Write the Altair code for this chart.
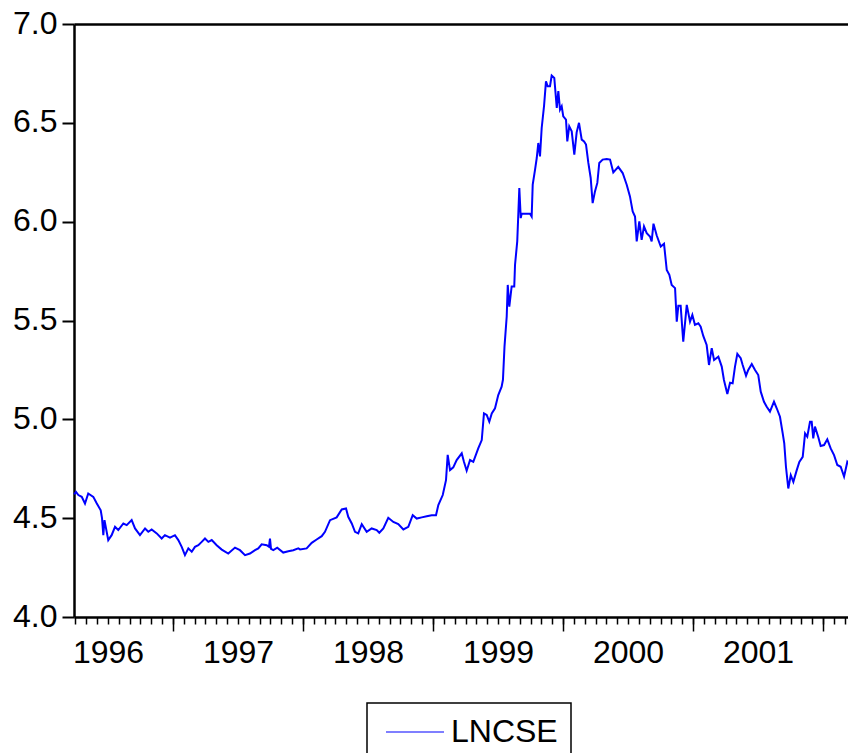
import altair as alt
import pandas as pd

# decimal-year dates and LNCSE values
t = [
    1996.240, 1996.254, 1996.272, 1996.298, 1996.323, 1996.348, 1996.387, 1996.413, 1996.444, 1996.454,
    1996.464, 1996.473, 1996.502, 1996.528, 1996.554, 1996.579, 1996.618, 1996.644, 1996.682, 1996.708,
    1996.746, 1996.785, 1996.810, 1996.836, 1996.875, 1996.913, 1996.938, 1996.977,
    1997.015, 1997.041, 1997.067, 1997.092, 1997.118, 1997.144, 1997.169, 1997.195, 1997.221, 1997.246,
    1997.272, 1997.298, 1997.336, 1997.375, 1997.425, 1997.477, 1997.515, 1997.554, 1997.592, 1997.631,
    1997.656, 1997.682, 1997.721, 1997.738, 1997.746, 1997.754, 1997.772, 1997.802, 1997.848, 1997.887,
    1997.925, 1997.964, 1997.977,
    1998.028, 1998.067, 1998.105, 1998.144, 1998.169, 1998.208, 1998.259, 1998.298, 1998.331, 1998.348,
    1998.375, 1998.400, 1998.425, 1998.452, 1998.490, 1998.528, 1998.567, 1998.587, 1998.618, 1998.656,
    1998.695, 1998.733, 1998.772, 1998.810, 1998.844, 1998.875, 1998.913, 1998.952, 1998.990,
    1999.023, 1999.041, 1999.075, 1999.100, 1999.113, 1999.131, 1999.156, 1999.182, 1999.221, 1999.238,
    1999.259, 1999.285, 1999.310, 1999.348, 1999.375, 1999.392, 1999.413, 1999.433, 1999.452, 1999.477,
    1999.502, 1999.528, 1999.538, 1999.550, 1999.567, 1999.575, 1999.587, 1999.605, 1999.625, 1999.631,
    1999.648, 1999.664, 1999.675, 1999.682, 1999.746, 1999.759, 1999.767, 1999.785, 1999.798, 1999.810,
    1999.823, 1999.836, 1999.854, 1999.869, 1999.882, 1999.900, 1999.913, 1999.933, 1999.952, 1999.964,
    1999.977, 1999.990,
    2000.002, 2000.023, 2000.033, 2000.048, 2000.067, 2000.087, 2000.105, 2000.123, 2000.144, 2000.162,
    2000.177, 2000.195, 2000.213, 2000.228, 2000.246, 2000.264, 2000.279, 2000.305, 2000.336, 2000.362,
    2000.387, 2000.425, 2000.459, 2000.490, 2000.515, 2000.536, 2000.554, 2000.567, 2000.587, 2000.605,
    2000.623, 2000.644, 2000.669, 2000.682, 2000.696, 2000.721, 2000.752, 2000.777, 2000.798, 2000.818,
    2000.836, 2000.862, 2000.875, 2000.887, 2000.905, 2000.925, 2000.952, 2000.977, 2000.995,
    2001.015, 2001.041, 2001.059, 2001.079, 2001.105, 2001.123, 2001.144, 2001.162, 2001.195, 2001.221,
    2001.238, 2001.264, 2001.285, 2001.305, 2001.323, 2001.341, 2001.367, 2001.382, 2001.408, 2001.425,
    2001.452, 2001.477, 2001.502, 2001.521, 2001.546, 2001.567, 2001.592, 2001.623, 2001.644, 2001.669,
    2001.690, 2001.702, 2001.715, 2001.733, 2001.752, 2001.772, 2001.798, 2001.818, 2001.844, 2001.862,
    2001.879, 2001.900, 2001.913, 2001.925, 2001.938, 2001.964, 2001.982,
    2002.008, 2002.033, 2002.059, 2002.085, 2002.110, 2002.136, 2002.162, 2002.187, 2002.213, 2002.246,
]
v = [
    4.620, 4.633, 4.617, 4.608, 4.574, 4.625, 4.608, 4.576, 4.540, 4.500,
    4.414, 4.490, 4.389, 4.414, 4.456, 4.440, 4.473, 4.465, 4.490, 4.448,
    4.414, 4.448, 4.431, 4.443, 4.423, 4.397, 4.414, 4.402,
    4.414, 4.389, 4.355, 4.313, 4.347, 4.330, 4.355, 4.363, 4.380, 4.397,
    4.380, 4.389, 4.363, 4.341, 4.321, 4.351, 4.338, 4.313, 4.321, 4.338,
    4.347, 4.368, 4.363, 4.355, 4.397, 4.345, 4.338, 4.351, 4.326, 4.333,
    4.338, 4.347, 4.342,
    4.347, 4.375, 4.392, 4.409, 4.431, 4.490, 4.504, 4.544, 4.549, 4.507,
    4.473, 4.431, 4.423, 4.470, 4.431, 4.448, 4.440, 4.426, 4.448, 4.502,
    4.481, 4.470, 4.443, 4.456, 4.515, 4.498, 4.504, 4.510, 4.515,
    4.515, 4.566, 4.617, 4.692, 4.820, 4.743, 4.757, 4.794, 4.828, 4.785,
    4.740, 4.794, 4.785, 4.853, 4.895, 5.030, 5.022, 4.988, 5.030, 5.056,
    5.123, 5.165, 5.200, 5.368, 5.520, 5.680, 5.570, 5.672, 5.672, 5.782,
    5.900, 6.170, 6.018, 6.040, 6.040, 6.026, 6.187, 6.263, 6.322, 6.398,
    6.330, 6.474, 6.584, 6.710, 6.685, 6.685, 6.739, 6.727, 6.576, 6.660,
    6.567, 6.584,
    6.533, 6.516, 6.406, 6.482, 6.457, 6.339, 6.452, 6.500, 6.415, 6.406,
    6.390, 6.297, 6.221, 6.094, 6.153, 6.196, 6.297, 6.314, 6.317, 6.314,
    6.249, 6.277, 6.246, 6.187, 6.128, 6.052, 6.026, 5.900, 6.001, 5.908,
    5.976, 5.942, 5.925, 5.900, 5.990, 5.930, 5.874, 5.888, 5.756, 5.731,
    5.680, 5.664, 5.494, 5.574, 5.574, 5.393, 5.579, 5.494, 5.528,
    5.478, 5.486, 5.469, 5.422, 5.376, 5.275, 5.360, 5.300, 5.317, 5.267,
    5.199, 5.128, 5.185, 5.182, 5.267, 5.331, 5.309, 5.275, 5.221, 5.250,
    5.280, 5.250, 5.224, 5.140, 5.089, 5.064, 5.039, 5.089, 5.056, 5.013,
    4.929, 4.878, 4.760, 4.650, 4.718, 4.684, 4.743, 4.785, 4.810, 4.929,
    4.912, 4.988, 4.988, 4.904, 4.963, 4.909, 4.865,
    4.870, 4.899, 4.853, 4.819, 4.769, 4.760, 4.710, 4.785, 4.764, 4.743,
]
series_name = ["LNCSE"]
y_ticks = [4.0, 4.5, 5.0, 5.5, 6.0, 6.5, 7.0]
year_ticks = [1997, 1998, 1999, 2000, 2001, 2002]
month_ticks = [round(y + m / 12, 4) for y in range(1996, 2003) for m in range(12)
               if 1996.24 <= y + m / 12 <= 2002.26]

df = pd.DataFrame({"t": t, "v": v, "series": series_name * len(t)})

FONT = "Liberation Sans, Arial, sans-serif"
x_scale = alt.Scale(domain=[1996.2385, 2002.2538], nice=False, zero=False)
y_scale = alt.Scale(domain=[4.0, 7.0], nice=False, zero=False)

y_axis = alt.Axis(values=y_ticks, format=".1f", tickSize=12, tickWidth=2, labelPadding=5,
                  labelOffset=-1, domainWidth=2.5, title=None, grid=False)

base = alt.Chart(df)

line = base.mark_line(strokeWidth=2).encode(
    x=alt.X("t:Q", scale=x_scale,
            axis=alt.Axis(orient="bottom", values=month_ticks, tickSize=7, tickWidth=1.5,
                          labelExpr="abs(datum.value - floor(datum.value) - 0.5) < 0.01 ? '' + floor(datum.value) : ''",
                          labelPadding=13, labelOverlap=False, labelFlush=False, labelBound=False,
                          domainWidth=2.5, title=None, grid=False)),
    y=alt.Y("v:Q", scale=y_scale, axis=y_axis),
    color=alt.Color("series:N", scale=alt.Scale(domain=series_name, range=["#0000ff"]),
                    legend=alt.Legend(title=None, orient="none", legendX=293, legendY=679,
                                      symbolType="M-1,0H4.8", symbolSize=400, symbolStrokeWidth=1.2,
                                      labelOffset=39, labelFontSize=32, labelFont=FONT,
                                      labelColor="black", padding=13, strokeColor="black",
                                      fillColor="white", cornerRadius=0)),
)

major = base.mark_line(opacity=0).encode(
    x=alt.X("t:Q", scale=x_scale,
            axis=alt.Axis(orient="bottom", values=year_ticks, tickSize=14, tickWidth=1.5,
                          labels=False, domain=False, title=None, grid=False)),
    y=alt.Y("v:Q", scale=y_scale, axis=y_axis),
)

top = base.mark_line(opacity=0).encode(
    x=alt.X("t:Q", scale=x_scale,
            axis=alt.Axis(orient="top", ticks=False, labels=False, domain=True,
                          domainWidth=2.5, title=None, grid=False)),
    y=alt.Y("v:Q", scale=y_scale, axis=y_axis),
)

chart = (
    alt.layer(line, major, top)
    .resolve_axis(x="independent")
    .properties(width=782, height=593, autosize=alt.AutoSizeParams(type="none"),
                padding={"left": 66, "top": 16, "right": -8, "bottom": 136})
    .configure_view(stroke=None)
    .configure_axis(labelFont=FONT, labelFontSize=32, labelColor="black",
                    domainColor="black", tickColor="black")
    .configure_legend(strokeWidth=1.5)
)

chart.save("out.html", embed_options={"renderer": "svg", "actions": False})
